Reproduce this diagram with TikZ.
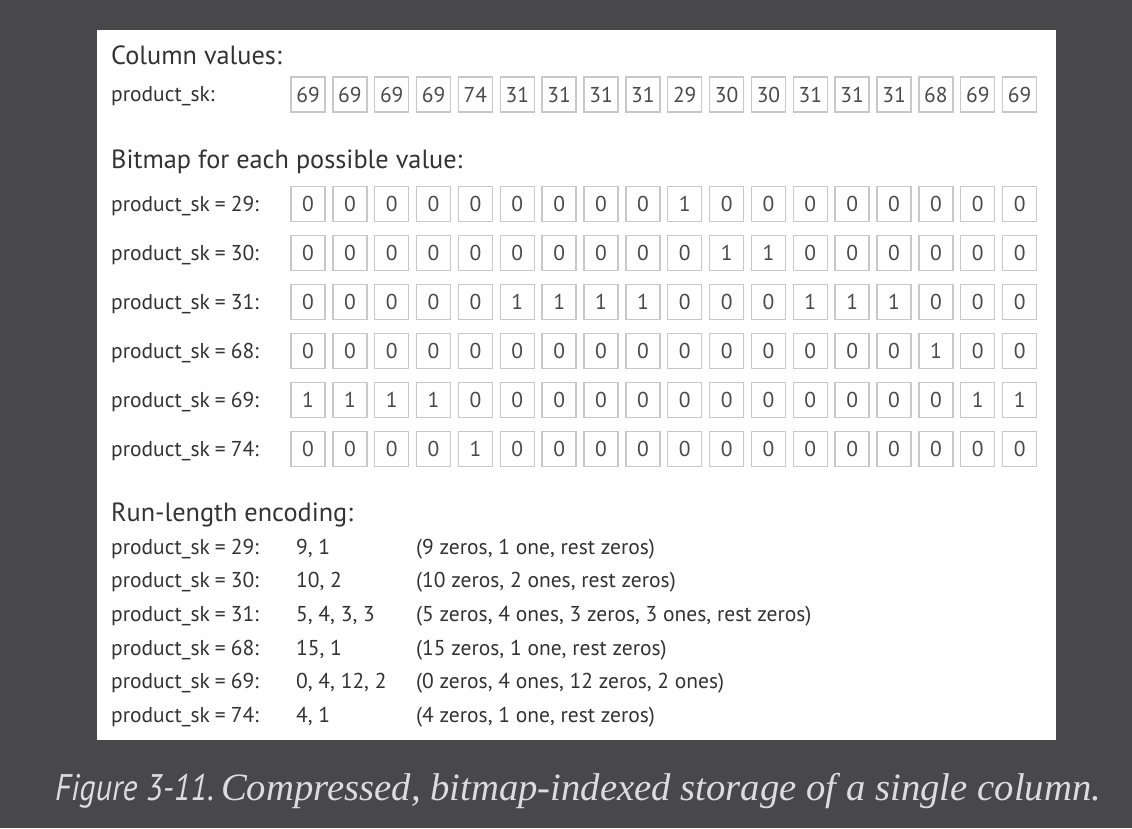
\documentclass[tikz,border=0pt]{standalone}
\usepackage{fontspec}
\setmainfont{PT Sans}
\newfontfamily\capserif{Liberation Serif}
\newfontfamily\capsans{PT Sans}
\definecolor{bgc}{HTML}{48484B}
\definecolor{labelc}{HTML}{333333}
\definecolor{cellt}{HTML}{4A4A4A}
\definecolor{cellb}{HTML}{C8C8C8}
\definecolor{capc}{HTML}{DCDCDC}
\newcommand{\eqsep}{\hspace{5pt}=\hspace{5pt}}
\begin{document}
\begin{tikzpicture}[x=1pt,y=-1pt,
  lbl/.style={anchor=base west,inner sep=0pt,text=labelc,font=\fontsize{21.5}{24}\selectfont},
  head/.style={anchor=base west,inner sep=0pt,text=labelc,font=\fontsize{26.3}{30}\selectfont},
  cell/.style={draw=cellb,line width=1.4pt,minimum width=34pt,minimum height=35pt,inner sep=0pt,
    text=cellt,font=\fontsize{21.5}{24}\selectfont,fill=white}]
\fill[bgc] (0,0) rectangle (1132,828);
\useasboundingbox (0,0) rectangle (1132,828);
\fill[white] (97,30) rectangle (1056,740);
% column values
\node[head] (hcol) at (111,64) {Column values:};
\node[lbl] (lcol) at (111,101) {product\_sk:};
\foreach \v [count=\i] in {69,69,69,69,74,31,31,31,31,29,30,30,31,31,31,68,69,69}
  \node[cell] (v\i) at ({308+(\i-1)*41.86},94.5) {\v};
% bitmaps
\node[head] (hbit) at (111,168) {Bitmap for each possible value:};
\foreach \k [count=\r] in {29,30,31,68,69,74}{
  \node[lbl] (lb\k) at (111,{204+(\r-1)*49+7.5}) {product\_sk\eqsep\k:};
  \foreach \v [count=\i] in {69,69,69,69,74,31,31,31,31,29,30,30,31,31,31,68,69,69}
    \node[cell] (b\k c\i) at ({308+(\i-1)*41.86},{204+(\r-1)*49}) {\ifnum\v=\k\relax 1\else 0\fi};
}
% run-length encoding
\node[head] (hrle) at (111,521.5) {Run-length encoding:};
\foreach \k/\code/\expl [count=\r] in {
  29/{9, 1}/{(9 zeros, 1 one, rest zeros)},
  30/{10, 2}/{(10 zeros, 2 ones, rest zeros)},
  31/{5, 4, 3, 3}/{(5 zeros, 4 ones, 3 zeros, 3 ones, rest zeros)},
  68/{15, 1}/{(15 zeros, 1 one, rest zeros)},
  69/{0, 4, 12, 2}/{(0 zeros, 4 ones, 12 zeros, 2 ones)},
  74/{4, 1}/{(4 zeros, 1 one, rest zeros)}}{
  \node[lbl] (rl\k) at (111,{554+(\r-1)*33.7}) {product\_sk\eqsep\k:};
  \node[lbl] (rc\k) at (296,{554+(\r-1)*33.7}) {\code};
  \node[lbl] (re\k) at (416,{554+(\r-1)*33.7}) {\expl};
}
% caption
\node[anchor=base west,inner sep=0pt,text=capc] (cap) at (55,800)
  {\scalebox{0.87}[1]{\capsans\itshape\fontsize{37}{40}\selectfont Figure 3-11.}\hspace{7pt}{\capserif\itshape\fontsize{38.7}{42}\selectfont Compressed, bitmap-indexed storage of a single column.}};
\end{tikzpicture}
\end{document}
